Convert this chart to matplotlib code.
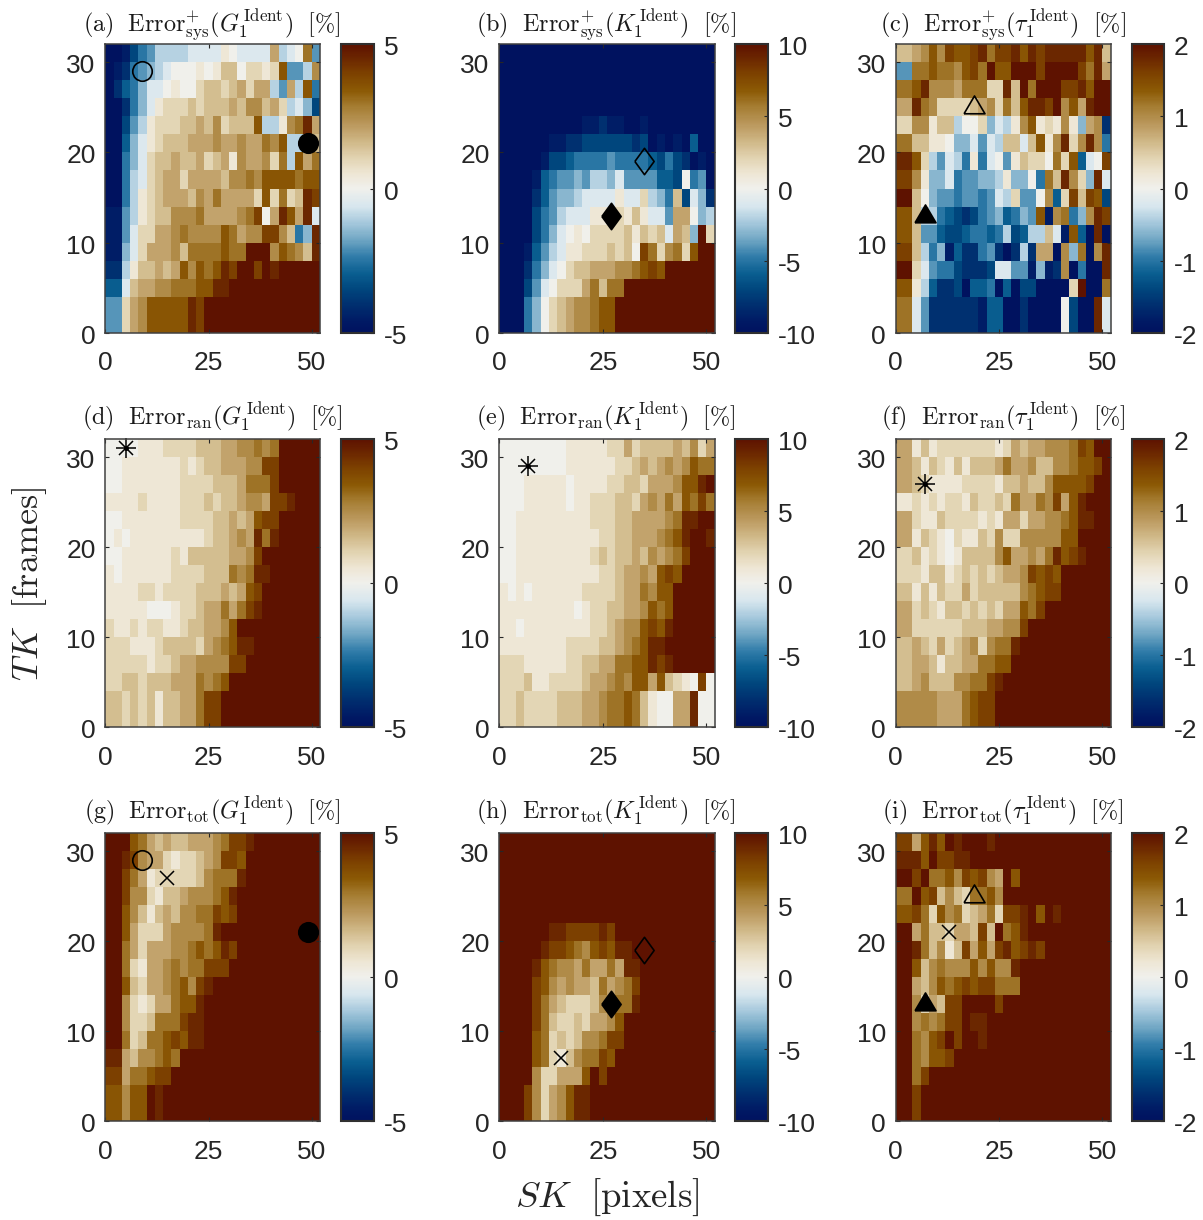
import numpy as np
import matplotlib
matplotlib.use("Agg")
import matplotlib.pyplot as plt
from matplotlib.colors import LinearSegmentedColormap
from matplotlib.transforms import ScaledTranslation

# Rows run from TK = 31 (top) to TK = 1 (bottom), columns from SK = 1 to SK = 51.
LEVELS = "abcdefghijklmnopqrstu"

sys_G = ["aabdfgiiiijjjjlkjjjjoijkqg",
         "abcfghijkkklklnnkmmlmrggip",
         "acefhjjklkkmnnmnomooigoirf",
         "aacfhjlmmmnmnnnonppnomijhd",
         "aadgilmmmnnonpmnnnriilpqto",
         "aaehjlmnnnooopoopooqpriinn",
         "aafhjmnnonnomnolpoopmqiroq",
         "aafijmnoomoooonppqprrrrqrr",
         "aafilmnooonpoqoooomrmqmnts",
         "bbgilmnnpppqoooopqskotrotj",
         "bbgjmmoopqpppprqoppsspnfht",
         "bbhjmooopnqqqqrqquuuprqpnt",
         "ccilnnonorprqrtsuusutuuuuu",
         "eejnooppqqqrrttuuuuuuuuuuu",
         "ggmoprrrrrts" + "u" * 14,
         "ggmoprrrrrts" + "u" * 14]

sys_K = ["a" * 26, "a" * 26, "a" * 26, "a" * 26,
         "aaaaaaaaaabbcbbaabaaaaaaaa",
         "aaaaaabbccddddddcdababaeaa",
         "aaaaabddeffffgffffedfdcaba",
         "aaaabefgghgiihjggggeedkfga",
         "aaaaceghhijjjjljjmihfndjhc",
         "aaaadfgijjjlllmlnljjgookhi",
         "aaaadfhjklkmmmmnlnmnjonhum",
         "aaabegijllmmmnmnksqmpqmruu",
         "aaacfhjkmnnoooppqrsr" + "u" * 6,
         "aaadgjkmmmoqnqq" + "u" * 11,
         "aaafhkmnoppqrr" + "u" * 12,
         "aaafhkmnoppqrr" + "u" * 12]

sys_T = ["nnoprpsrrstqsstrtstttttrtn",
         "ggqqrqqprsqurruuusuuuusqto",
         "qqrtpppoqqqmmtnuquuusstruu",
         "ootqpmmmmnopmqnrttsuprotuu",
         "mmpplnnikkmhjilprlmlplhopc",
         "qqnnllkhhjgjinnjnrlptmptpf",
         "ttrmigjiflfjkglnmmkqmrejks",
         "ssplhhjfgghhilhhkfqntpmhtj",
         "uunkhggfggfgjimggkpemsnsrd",
         "rrniifedcdfghefhgrbpqfhpts",
         "rrnggeddeffefideiinjbreata",
         "ssnifhbeccfgcacicooaphqapt",
         "uumjgffdcccdjjggbhbcpafaat",
         "rrlieccdaeefaeaddaaaamuaaq",
         "qqjgccccccbeeaacaaaakdaatj",
         "qqjgccccccbeeaacaaaakdaatj"]

ran_G = ["kkkklllmmmmnnnooppqpquuuuu",
         "kklllllllmlmnnoooppssuuuuu",
         "kklllllllmmmmnnnoqqqsuuuuu",
         "llllmllllmmmnmnnopposstuuu",
         "kklllllllmmmmnnonorssuuuuu",
         "klklllllllllmnnopotqtuuuuu",
         "kkllllllmlnnnnnoopsuuuuuuu",
         "lkllllllmmmmnnnqpqttuuuuuu",
         "llllmmlmmmmnnnonorsuuuuuuu",
         "lllllkkklmmnooqoqstuuuuuuu",
         "mllmlmmllmnnoopr" + "u" * 10,
         "mmmlllmnnnnmopqrtt" + "u" * 8,
         "mmmmmlmmnooppppss" + "u" * 9,
         "mmnnmnnnoooqpqr" + "u" * 11,
         "nnmnmnlnnooqss" + "u" * 12,
         "nnmnmnlnnooqss" + "u" * 12]

ran_K = ["kkkkkkkklllllmmomnnnnonpmo",
         "kkkkkkkkllllllmmnonopoprqq",
         "kkklllllkllllmmnnmoooprrtu",
         "kkklllllkllmmmnnmopoqorqsq",
         "kklllllllllmmmnnoooopqttuu",
         "kk" + "l" * 10 + "mmnnooopqrtuut",
         "kk" + "l" * 9 + "mnmnnonpopqsuuu",
         "kk" + "l" * 10 + "mmnooporsruuuu",
         "lklkllllllmmmmnooqprruuuuu",
         "lllllllllklmmnnooprqruuuuu",
         "llkllllllllmmnopprsrtuuuuu",
         "l" * 8 + "mmmmnnopqrtt" + "u" * 6,
         "mmmlllllmmnnooqqrrtst" + "u" * 5,
         "mmmnllmmmmnoopqprrornmlksk",
         "mmnmmmmnnnoopqqrqnlkkootkk",
         "mmnmmmmnnnoopqqrqnlkkootkk"]

ran_T = ["oolnlmmmmmmmlmonoopppqsruu",
         "oonlnmlnlnnnoqoopnnppqrrsu",
         "oonmllllmmmmlnnonnprrrrsuu",
         "llmlmlmmlnmmnmqooqpsortuuu",
         "oomllnmmmmlmloomooppqrttuu",
         "oolnmlkmllnmpmmppppprruuuu",
         "mmnlmlklnnnnproopoqtrstuuu",
         "mmmlnnlmnmnmnoopsrsr" + "u" * 6,
         "nnlnlnmmomnnnnnpqrss" + "u" * 6,
         "oomnmlnnmnmnmoorqs" + "u" * 8,
         "oommmmmmnnnoopps" + "u" * 10,
         "nnonmomnopmpqqt" + "u" * 11,
         "nnoonlnnooqqrr" + "u" * 12,
         "nnopnnnppqqst" + "u" * 13,
         "pppppoooqrss" + "u" * 14,
         "pppppoooqrss" + "u" * 14]

tot_G = ["uuurqononnooopqsst" + "u" * 8,
         "uutspoomlmmnopssr" + "u" * 9,
         "uusqolmmmmmnpqqqt" + "u" * 9,
         "uusppmlnnopppqrt" + "u" * 10,
         "uurpnlnonppqqsrs" + "u" * 10,
         "uurommmoppppqt" + "u" * 12,
         "uuqomoooppqrqrts" + "u" * 10,
         "uuqmloopqpqqsss" + "u" * 11,
         "uurnmoopqrpst" + "u" * 13,
         "uupmlmooqrrt" + "u" * 14,
         "uupmmnqqqstt" + "u" * 14,
         "uuqmnqqrsrtt" + "u" * 14,
         "ttonppqrq" + "u" * 17,
         "ssoqqrss" + "u" * 18,
         "rrprrut" + "u" * 19,
         "rrprrut" + "u" * 19]

tot_K = ["u" * 26, "u" * 26, "u" * 26, "u" * 26, "u" * 26,
         "u" * 6 + "ttssssts" + "u" * 12,
         "u" * 5 + "tssrqprsrtt" + "u" * 10,
         "uuuu" + "trqppoqooqott" + "u" * 9,
         "uuuu" + "srpopoonqopqs" + "u" * 9,
         "uuuu" + "sqonmmmnppqqt" + "u" * 9,
         "uuuu" + "sqnmmnmoopr" + "u" * 11,
         "uuuu" + "rqmnmnppqss" + "u" * 11,
         "uuuu" + "rqmlnpqqsr" + "u" * 12,
         "uuuu" + "pmmooorus" + "u" * 13,
         "uuu" + "spmoprtt" + "u" * 15,
         "uuu" + "spmoprtt" + "u" * 15]

tot_T = ["ssortrutuuut" + "u" * 14,
         "tttrusstt" + "u" * 17,
         "uusuqqrpsrspour" + "u" * 11,
         "qqursnpnmqqrp" + "u" * 13,
         "rrsqmrpqmnoqmsstur" + "ut" + "u" * 6,
         "uuoqnnmoonsnuqrt" + "u" * 10,
         "uutqnplnsorostrsts" + "u" * 8,
         "uurnpqppprprppt" + "u" * 11,
         "uuonprqrsrssqqq" + "u" * 11,
         "uupmonssuuuus" + "u" * 13,
         "uupqpqssutt" + "u" * 15,
         "uuqprsusuut" + "u" * 15,
         "uuqprrs" + "u" * 19,
         "uuqs" + "u" * 22,
         "uus" + "u" * 23,
         "uus" + "u" * 23]

panels = [sys_G, sys_K, sys_T, ran_G, ran_K, ran_T, tot_G, tot_K, tot_T]
limits = [5, 10, 2] * 3
cbar_ticks = {5: [-5, 0, 5], 10: [-10, -5, 0, 5, 10], 2: [-2, -1, 0, 1, 2]}
letters = "abcdefghi"
kinds = [r"^{+}_{\mathrm{sys}}"] * 3 + [r"_{\mathrm{ran}}"] * 3 + [r"_{\mathrm{tot}}"] * 3
symbols = ["G", "K", r"\tau"] * 3

# marker positions (SK, TK) per panel
open_pts = {0: (9, 29), 1: (35, 19), 2: (19, 25), 6: (9, 29), 7: (35, 19), 8: (19, 25)}
fill_pts = {0: (49, 21), 1: (27, 13), 2: (7, 13), 6: (49, 21), 7: (27, 13), 8: (7, 13)}
star_pts = {3: (5, 31), 4: (7, 29), 5: (7, 27)}
cross_pts = {6: (15, 27), 7: (15, 7), 8: (13, 21)}

_stops = [(0.000, (0, 18, 95)), (0.035, (0, 25, 100)), (0.090, (0, 45, 110)), (0.150, (0, 70, 125)),
          (0.205, (10, 95, 145)), (0.265, (50, 125, 170)), (0.320, (110, 165, 195)),
          (0.380, (165, 200, 220)), (0.4375, (215, 230, 238)), (0.500, (240, 240, 236)),
          (0.553, (238, 230, 212)), (0.610, (225, 210, 175)), (0.670, (205, 180, 130)),
          (0.727, (185, 150, 90)), (0.785, (165, 125, 50)), (0.840, (140, 90, 5)),
          (0.900, (125, 65, 0)), (0.960, (105, 35, 0)), (1.000, (94, 18, 0))]
cmap = LinearSegmentedColormap.from_list(
    "blue_brown", [(p, tuple(v / 255 for v in c)) for p, c in _stops])

plt.rcParams["font.family"] = ["Liberation Sans", "DejaVu Sans"]
plt.rcParams["mathtext.fontset"] = "cm"
plt.rcParams["axes.unicode_minus"] = False
DARK = "#262626"

W, H = 1203, 1220
fig = plt.figure(figsize=(W / 100, H / 100), dpi=100)

col_ax = [(105.3, 320.0), (499.3, 714.7), (895.7, 1110.7)]
col_cb = [(341.3, 374.3), (735.3, 768.3), (1131.7, 1164.3)]
row_y = [(44.3, 332.7), (438.7, 727.3), (832.7, 1121.0)]
title_x = [212, 606, 1003]

MARK = {"diamond": [(-0.73, 0), (0, 1), (0.73, 0), (0, -1), (-0.73, 0)],
        "triangle": [(-1, -0.6), (1, -0.6), (0, 1.1), (-1, -0.6)]}
col_marker = ["o", MARK["diamond"], MARK["triangle"]]
col_msize = [14, 19, 16.6]

x_edges = np.arange(0, 53, 2)
y_edges = np.arange(0, 33, 2)
down = ScaledTranslation(0, -1.5 / 100, fig.dpi_scale_trans)

for idx, rows in enumerate(panels):
    r, c = idx // 3, idx % 3
    x0, x1 = col_ax[c]
    y0, y1 = row_y[r]
    ax = fig.add_axes([x0 / W, 1 - y1 / H, (x1 - x0) / W, (y1 - y0) / H])
    vmax = limits[idx]
    Z = np.array([[(LEVELS.index(ch) - 10) / 10 * vmax for ch in s] for s in rows])[::-1]
    m = ax.pcolormesh(x_edges, y_edges, Z, cmap=cmap, vmin=-vmax, vmax=vmax, linewidth=0)
    ax.set_xlim(0, 52)
    ax.set_ylim(0, 32)
    ax.set_xticks([0, 25, 50])
    ax.set_yticks([0, 10, 20, 30])
    ax.tick_params(direction="in", top=True, right=True, length=3, width=0.8,
                   labelsize=19, colors=DARK)
    ax.tick_params(axis="x", pad=13.5)
    ax.tick_params(axis="y", pad=7)
    for lab in ax.get_yticklabels():
        lab.set_transform(lab.get_transform() + down)
    for s in ax.spines.values():
        s.set_color("#404040")
        s.set_linewidth(1.1)
    title = (r"$\mathrm{(%s)\ \ Error}%s(%s_1^{\,\mathrm{Ident}})\ \ [\%%]$"
             % (letters[idx], kinds[idx], symbols[idx]))
    fig.text(title_x[c] / W, 1 - (y0 - 14) / H, title, ha="center", va="baseline",
             fontsize=17.4, color="#1a1a1a")

    if idx in open_pts:
        ax.plot(*open_pts[idx], marker=col_marker[c], ms=col_msize[c], mfc="none", mec="black",
                mew=1.2, ls="none", clip_on=False)
        ax.plot(*fill_pts[idx], marker=col_marker[c], ms=col_msize[c], mfc="black", mec="black",
                mew=1.2, ls="none", clip_on=False)
    if idx in star_pts:
        ax.plot(*star_pts[idx], marker="+", ms=15, mec="black", mew=1.1, ls="none", clip_on=False)
        ax.plot(*star_pts[idx], marker="x", ms=10, mec="black", mew=1.1, ls="none", clip_on=False)
        ax.plot(*star_pts[idx], marker="o", ms=2.5, mfc="black", mec="black", ls="none")
    if idx in cross_pts:
        ax.plot(*cross_pts[idx], marker="x", ms=10, mec="black", mew=1.1, ls="none")

    cx0, cx1 = col_cb[c]
    cax = fig.add_axes([cx0 / W, 1 - y1 / H, (cx1 - cx0) / W, (y1 - y0) / H])
    cb = fig.colorbar(m, cax=cax)
    cb.set_ticks(cbar_ticks[vmax])
    cb.ax.tick_params(direction="in", length=3, width=0.8, labelsize=19, colors=DARK, pad=7)
    for lab in cb.ax.get_yticklabels():
        lab.set_transform(lab.get_transform() + down)
    cb.outline.set_edgecolor("#303030")
    cb.outline.set_linewidth(1.5)

fig.text(30 / W, 1 - 584 / H, r"$TK\ \ [\mathrm{frames}]$", rotation=90, ha="center", va="center",
         fontsize=26, color="#262626")
fig.text(607 / W, 1 - 1197 / H, r"$SK\ \ [\mathrm{pixels}]$", ha="center", va="center",
         fontsize=26.5, color="#262626")

bad = [(i, j, len(s)) for i, p in enumerate(panels) for j, s in enumerate(p) if len(s) != 26]
print("row length problems:", bad)
fig.savefig("out.png", dpi=100)
